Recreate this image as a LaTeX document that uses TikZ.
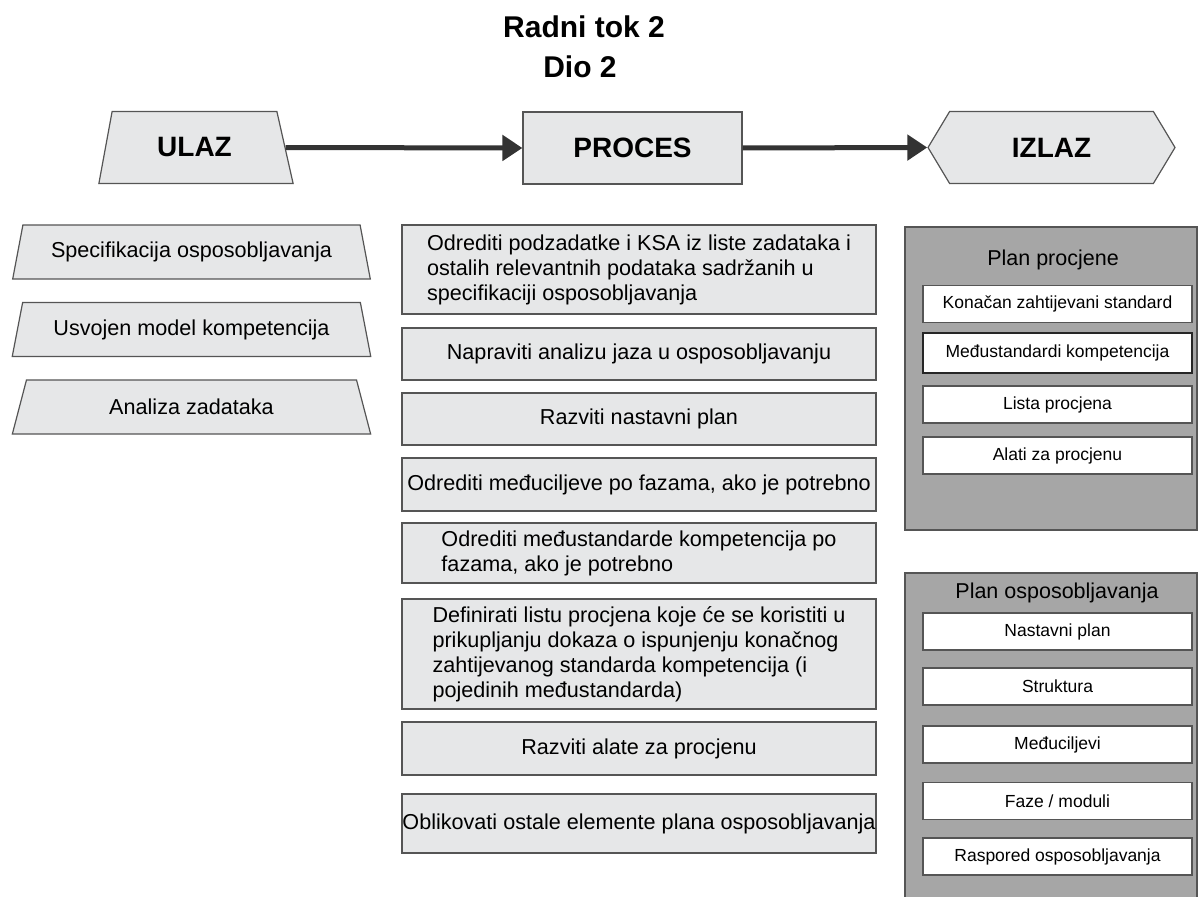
\documentclass[tikz,border=0pt]{standalone}
\usepackage{fontspec}
\setmainfont{Liberation Sans}
\usetikzlibrary{shapes.geometric,shapes.symbols,arrows.meta}
\definecolor{svijetla}{HTML}{E6E7E8}
\definecolor{tamna}{HTML}{A6A6A6}
\definecolor{rub}{HTML}{555555}
\definecolor{strelica}{HTML}{333333}
\tikzset{
  glava/.style={draw=rub, fill=svijetla, line width=1.2pt, minimum height=72pt,
    font=\fontsize{28}{32}\selectfont\bfseries},
  ulazbox/.style={trapezium, trapezium stretches=true, trapezium angle=72,
    draw=rub, fill=svijetla, line width=1.2pt, minimum width=359pt, minimum height=54pt,
    font=\fontsize{21.6}{25}\selectfont},
  korak/.style={draw=rub, fill=svijetla, line width=1.2pt, minimum width=474pt,
    align=left, inner sep=0pt, font=\fontsize{21.6}{25}\selectfont},
  panel/.style={draw=rub, fill=tamna, line width=1.2pt},
  stavka/.style={draw=rub, fill=white, line width=1.2pt, minimum width=269pt,
    minimum height=37pt, inner sep=0pt, font=\fontsize{17.5}{21}\selectfont},
  tok/.style={draw=strelica, line width=5pt, -{Triangle[length=20pt,width=25pt]}}
}
\begin{document}
\begin{tikzpicture}[x=1pt, y=-1pt]
  \useasboundingbox (0,0) rectangle (1198,896);
  \node[font=\fontsize{30}{36}\selectfont\bfseries, anchor=base] (naslov1) at (584,38) {Radni tok 2};
  \node[font=\fontsize{30}{36}\selectfont\bfseries, anchor=base] (naslov2) at (580,78) {Dio 2};

  % gornji red
  \node[glava, trapezium, trapezium stretches=true, trapezium left angle=76,
        trapezium right angle=73, minimum width=195pt] (ulaz) at (194.5,147.5) {ULAZ};
  \node[glava, minimum width=219pt] (proces) at (632.5,148) {PROCES};
  \node[glava, signal, signal to=west and east, signal pointer angle=118,
        minimum width=247pt] (izlaz) at (1051.5,147.5) {IZLAZ};
  \draw[tok] (ulaz.east) -- (proces.west);
  \draw[tok] (proces.east) -- (izlaz.west);

  % ulazi
  \node[ulazbox] (u1) at (191.5,252) {Specifikacija osposobljavanja};
  \node[ulazbox] (u2) at (191.5,329.5) {Usvojen model kompetencija};
  \node[ulazbox] (u3) at (191.5,407) {Analiza zadataka};

  % koraci procesa
  \node[korak, minimum height=89pt] (k1) at (639,269.5) {Odrediti podzadatke i KSA iz liste zadataka i\\ostalih relevantnih podataka sadržanih u\\specifikaciji osposobljavanja};
  \node[korak, minimum height=52pt] (k2) at (639,354) {Napraviti analizu jaza u osposobljavanju};
  \node[korak, minimum height=52pt] (k3) at (639,419) {Razviti nastavni plan};
  \node[korak, minimum height=53pt] (k4) at (639,484.5) {Odrediti međuciljeve po fazama, ako je potrebno};
  \node[korak, minimum height=60pt] (k5) at (639,553) {Odrediti međustandarde kompetencija po\\fazama, ako je potrebno};
  \node[korak, minimum height=110pt] (k6) at (639,654) {Definirati listu procjena koje će se koristiti u\\prikupljanju dokaza o ispunjenju konačnog\\zahtijevanog standarda kompetencija (i\\pojedinih međustandarda)};
  \node[korak, minimum height=53pt] (k7) at (639,748.5) {Razviti alate za procjenu};
  \node[korak, minimum height=59pt] (k8) at (639,823.5) {Oblikovati ostale elemente plana osposobljavanja};

  % izlazi
  \draw[panel] (905,227) rectangle (1197,530);
  \node[font=\fontsize{21.5}{25}\selectfont] (pp) at (1053,260) {Plan procjene};
  \node[stavka] (p1) at (1057.5,304) {Konačan zahtijevani standard};
  \node[stavka, draw=black!85, line width=2pt, minimum height=40pt] (p2) at (1057.5,353) {Međustandardi kompetencija};
  \node[stavka] (p3) at (1057.5,404.5) {Lista procjena};
  \node[stavka] (p4) at (1057.5,455.5) {Alati za procjenu};

  \draw[panel] (905,573) rectangle (1197,905);
  \node[font=\fontsize{21.5}{25}\selectfont] (po) at (1057,593) {Plan osposobljavanja};
  \node[stavka] (o1) at (1057.5,631.5) {Nastavni plan};
  \node[stavka] (o2) at (1057.5,686.5) {Struktura};
  \node[stavka] (o3) at (1057.5,744.5) {Međuciljevi};
  \node[stavka] (o4) at (1057.5,801) {Faze / moduli};
  \node[stavka] (o5) at (1057.5,856.5) {Raspored osposobljavanja};
\end{tikzpicture}
\end{document}
